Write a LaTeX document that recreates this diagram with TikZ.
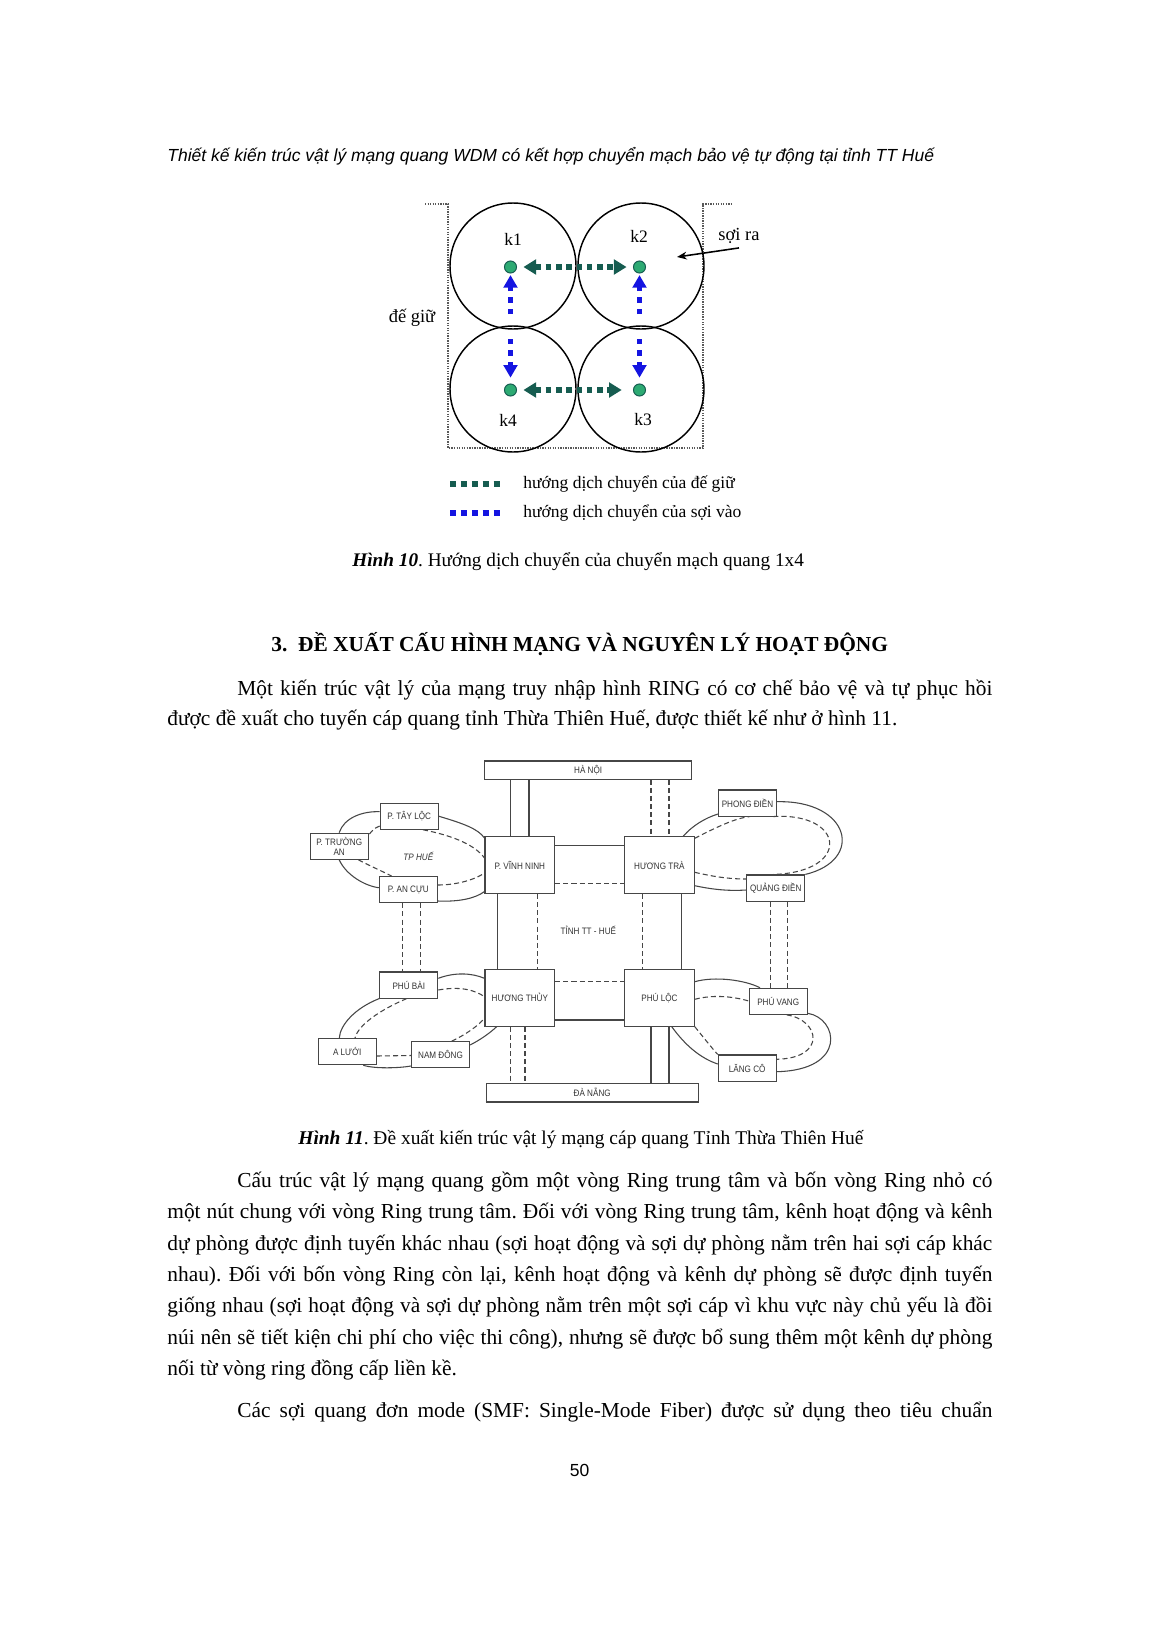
\documentclass[tikz,border=0pt]{standalone}
\usepackage{fontspec}
\setmainfont{Liberation Serif}
\newfontfamily\hdfont{Liberation Sans}
\newfontfamily\lblfont[FakeStretch=0.87]{Liberation Sans}
\usetikzlibrary{arrows.meta}
\definecolor{tealc}{RGB}{22,92,80}
\definecolor{dotg}{RGB}{45,170,115}
\definecolor{bluec}{RGB}{20,20,225}
\definecolor{netc}{RGB}{70,70,70}
\frenchspacing
\tikzset{
  bodyt/.style={anchor=base west, inner sep=0pt, font=\fontsize{11}{13}\selectfont},
  circk/.style={circle, draw=black, line width=0.75pt, minimum size=64.8pt, inner sep=0pt},
  dotn/.style={circle, draw=tealc, fill=dotg, line width=0.5pt, minimum size=6.2pt, inner sep=0pt},
  tealarr/.style={draw=tealc, line width=2.9pt, dash pattern=on 2.9pt off 2.4pt,
     {Triangle[length=6.5pt,width=7.5pt]}-{Triangle[length=6.5pt,width=7.5pt]}},
  bluearr/.style={draw=bluec, line width=2.7pt, dash pattern=on 2.7pt off 3.2pt,
     -{Triangle[length=6.5pt,width=7pt]}},
  klbl/.style={inner sep=0pt, font=\fontsize{9}{10}\selectfont},
  frm/.style={draw=black!65, line width=0.8pt, dash pattern=on 0.7pt off 0.6pt},
  bx/.style={draw=netc, line width=0.55pt, fill=white, inner sep=0.5pt, text=black!80,
     font=\lblfont\fontsize{4.8}{5.4}\selectfont, align=center},
  sbx/.style={bx, minimum width=29.8pt, minimum height=13.4pt},
  mbx/.style={bx, minimum width=35.8pt, minimum height=29.1pt},
  sol/.style={draw=netc, line width=0.55pt},
  dsh/.style={draw=netc, line width=0.55pt, dash pattern=on 2.6pt off 1.6pt},
}
\begin{document}
\begin{tikzpicture}[x=0.5143pt,y=-0.5143pt]
\useasboundingbox[fill=white] (0,0) rectangle (1157,1637);

% header
\node[anchor=base west, inner sep=0pt, font=\hdfont\itshape\fontsize{9}{10}\selectfont] (hdr) at (167,161)
  {Thiết kế kiến trúc vật lý mạng quang WDM có kết hợp chuyển mạch bảo vệ tự động tại tỉnh TT Huế};

% ---------------- Figure 10 ----------------
\draw[frm] (425,204) -- (448,204) -- (448,448) -- (703,448) -- (703,204) -- (732,204);
\node[circk] (c1) at (513,266) {};
\node[circk] (c2) at (641,266) {};
\node[circk] (c4) at (513,389) {};
\node[circk] (c3) at (641,389) {};
\node[klbl] (k1) at (513,239) {k1};
\node[klbl] (k2) at (639,236) {k2};
\node[klbl] (k4) at (508,420) {k4};
\node[klbl] (k3) at (643,420) {k3};
\node[klbl, font=\fontsize{9.5}{10}\selectfont] (sr) at (739,236) {sợi ra};
\node[klbl, font=\fontsize{9.5}{10}\selectfont] (dg) at (412,318) {đế giữ};
\coordinate (srtip) at (677,257);
\draw[line width=0.8pt, -{Stealth[length=5pt,width=4pt]}] ([yshift=-2pt]sr.south) -- (srtip);

\node[dotn] (d1) at (510.5,267) {};
\node[dotn] (d2) at (639.5,267) {};
\node[dotn] (d4) at (510.5,390) {};
\node[dotn] (d3) at (639.5,390) {};
\draw[tealarr, shorten <=3.3pt, shorten >=3.3pt] (d1) -- (d2);
\draw[tealarr, shorten <=3.3pt, shorten >=5.8pt] (d4) -- (d3);
\coordinate (b1) at (510.5,314);
\coordinate (b2) at (639.5,314);
\coordinate (b4) at (510.5,339);
\coordinate (b3) at (639.5,339);
\draw[bluearr, shorten >=0.8pt] (b1) -- (d1);
\draw[bluearr, shorten >=0.8pt] (b2) -- (d2);
\draw[bluearr, shorten >=3pt] (b4) -- (d4);
\draw[bluearr, shorten >=3pt] (b3) -- (d3);

% legend
\draw[draw=tealc, line width=3.3pt, dash pattern=on 3.3pt off 2.3pt] (450,484) -- (503,484);
\draw[draw=bluec, line width=3.3pt, dash pattern=on 3.3pt off 2.3pt] (450,513) -- (503,513);
\node[klbl, anchor=west] (lg1) at (523,484) {hướng dịch chuyển của đế giữ};
\node[klbl, anchor=west] (lg2) at (523,513) {hướng dịch chuyển của sợi vào};

% caption 10
\node[anchor=base west, inner sep=0pt, font=\fontsize{9.9}{12}\selectfont] (cap10) at (352,566)
  {\textbf{\textit{Hình 10}}. Hướng dịch chuyển của chuyển mạch quang 1x4};

% heading
\node[anchor=base west, inner sep=0pt, font=\bfseries\fontsize{11}{13}\selectfont] (h3) at (271,651)
  {3.\ \ ĐỀ XUẤT CẤU HÌNH MẠNG VÀ NGUYÊN LÝ HOẠT ĐỘNG};

% paragraph 1
\node[bodyt] (p1a) at (237,695) {\makebox[388.3pt][s]{Một kiến trúc vật lý của mạng truy nhập hình RING có cơ chế bảo vệ và tự phục hồi}};
\node[bodyt] (p1b) at (167,725) {được đề xuất cho tuyến cáp quang tỉnh Thừa Thiên Huế, được thiết kế như ở hình 11.};

% ---------------- Figure 11 ----------------
\node[bx, minimum width=106.2pt, minimum height=9.3pt] (hn) at (588.2,770) {HÀ NỘI};
\node[bx, minimum width=109.2pt, minimum height=9.5pt] (dn) at (592.2,1092.5) {ĐÀ NẴNG};
\draw[draw=netc, line width=1.2pt] (dn.south west) -- (dn.south east);
\node[mbx] (vn) at (519.8,865) {P. VĨNH NINH};
\node[mbx] (ht) at (659.4,865) {HƯƠNG TRÀ};
\node[mbx] (hy) at (519.8,997.8) {HƯƠNG THỦY};
\node[mbx] (pl) at (659.4,997.8) {PHÚ LỘC};
\node[sbx] (tl) at (409.2,816.2) {P. TÂY LỘC};
\node[sbx] (ta) at (339.2,846.2) {P. TRƯỜNG\\AN};
\node[sbx] (ac) at (408.3,889.7) {P. AN CỰU};
\node[sbx] (pd) at (747.5,803) {PHONG ĐIỀN};
\node[sbx] (qd) at (775.8,888) {QUẢNG ĐIỀN};
\node[sbx] (pb) at (408.8,985) {PHÚ BÀI};
\node[sbx] (al) at (347.2,1051.7) {A LƯỚI};
\node[sbx] (nd) at (440.5,1054.7) {NAM ĐÔNG};
\node[sbx] (pv) at (778.2,1001.3) {PHÚ VANG};
\node[sbx] (lc) at (747.2,1068) {LĂNG CÔ};
\node[inner sep=0pt, text=black!80, font=\lblfont\fontsize{4.8}{5.4}\selectfont] (tinh) at (588.3,930.7) {TỈNH TT - HUẾ};
\node[inner sep=0pt, text=black!80, font=\lblfont\itshape\fontsize{4.8}{5.4}\selectfont] (tphue) at (418.3,856.7) {TP HUẾ};

% central ring
\draw[sol] (hn.south -| 510.7,0) -- (vn.north -| 510.7,0);
\draw[sol] (hn.south -| 529,0) -- (vn.north -| 529,0);
\draw[dsh] (hn.south -| 651,0) -- (ht.north -| 651,0);
\draw[dsh] (hn.south -| 669,0) -- (ht.north -| 669,0);
\draw[sol] (vn.east |- 0,845.7) -- (ht.west |- 0,845.7);
\draw[dsh] (vn.east |- 0,883.3) -- (ht.west |- 0,883.3);
\draw[sol] (vn.south -| 497.7,0) -- (hy.north -| 497.7,0);
\draw[dsh] (vn.south -| 537.7,0) -- (hy.north -| 537.7,0);
\draw[dsh] (ht.south -| 642.3,0) -- (pl.north -| 642.3,0);
\draw[sol] (ht.south -| 681.7,0) -- (pl.north -| 681.7,0);
\draw[dsh] (hy.east |- 0,981.7) -- (pl.west |- 0,981.7);
\draw[sol] (hy.east |- 0,1020) -- (pl.west |- 0,1020);
\draw[dsh] (hy.south -| 510.7,0) -- (dn.north -| 510.7,0);
\draw[dsh] (hy.south -| 525,0) -- (dn.north -| 525,0);
\draw[sol] (pl.south -| 651,0) -- (dn.north -| 651,0);
\draw[sol] (pl.south -| 669,0) -- (dn.north -| 669,0);

% top-left ring
\draw[sol] (tl.east) .. controls (465,824) and (478,829) .. (vn.west |- 0,838);
\draw[sol] (ta.north) .. controls (344,818) and (362,811) .. (tl.west |- 0,811.7);
\draw[sol] (ta.south) .. controls (346,875) and (365,886) .. (ac.west |- 0,887.7);
\draw[sol] (ac.east |- 0,901) .. controls (460,902) and (476,898) .. (vn.west |- 0,891.5);
\draw[dsh] (tl.west |- 0,826) .. controls (374,828) and (371,832) .. (ta.east |- 0,835);
\draw[dsh] (ta.south -| 358.3,0) .. controls (370,866) and (384,872) .. (ac.north -| 391.7,0);
\draw[dsh] (tl.south -| 423,0) .. controls (455,836) and (476,846) .. (vn.west |- 0,858);
\draw[dsh] (ac.east |- 0,885) .. controls (458,885) and (476,879) .. (vn.west |- 0,873);
\draw[dsh] (ac.south -| 402.7,0) -- (pb.north -| 402.7,0);
\draw[dsh] (ac.south -| 420.7,0) -- (pb.north -| 420.7,0);

% top-right ring
\draw[sol] (ht.north -| 683.3,0) .. controls (692,826) and (705,818) .. (pd.west |- 0,814);
\draw[sol] (pd.east |- 0,801.7) .. controls (850,800) and (865,860) .. (qd.north east);
\draw[sol] (ht.east |- 0,885.7) .. controls (715,890) and (730,891) .. (qd.west |- 0,890);
\draw[dsh] (ht.east |- 0,838.3) .. controls (715,828) and (735,818) .. (pd.south -| 750,0);
\draw[dsh] (pd.south -| 773.3,0) .. controls (845,812) and (852,872) .. (qd.north -| 773.3,0);
\draw[dsh] (ht.east |- 0,872.3) .. controls (715,877) and (730,879) .. (qd.west |- 0,879);
\draw[dsh] (qd.south -| 770.7,0) -- (pv.north -| 770.7,0);
\draw[dsh] (qd.south -| 787.7,0) -- (pv.north -| 787.7,0);

% bottom-left ring
\draw[sol] (pb.east |- 0,978.3) .. controls (455,972) and (472,973) .. (hy.west |- 0,978.3);
\draw[dsh] (pb.east |- 0,990) .. controls (460,986) and (475,990) .. (hy.west |- 0,996.7);
\draw[sol] (pb.south west) .. controls (355,1008) and (340,1025) .. (al.north -| 339.3,0);
\draw[dsh] (pb.south -| 406.7,0) .. controls (380,1010) and (358,1025) .. (al.north -| 355,0);
\draw[dsh] (al.east |- 0,1056) -- (nd.west |- 0,1055.5);
\draw[sol] (al.south -| 363.3,0) .. controls (375,1069) and (400,1068) .. (nd.west |- 0,1066);
\draw[dsh] (nd.north -| 451.7,0) .. controls (465,1035) and (478,1026) .. (hy.west |- 0,1018.3);
\draw[sol] (nd.east |- 0,1045) .. controls (480,1040) and (490,1033) .. (hy.south -| 496.7,0);

% bottom-right ring
\draw[sol] (pl.east |- 0,981.7) .. controls (715,976) and (745,980) .. (pv.north -| 760,0);
\draw[dsh] (pl.east |- 0,999.3) .. controls (715,994) and (735,997) .. (pv.west |- 0,1001);
\draw[sol] (pv.east |- 0,1013.3) .. controls (838,1018) and (848,1070) .. (lc.east |- 0,1071.7);
\draw[dsh] (pv.south -| 786.7,0) .. controls (820,1020) and (827,1058) .. (lc.east |- 0,1059.3);
\draw[sol] (pl.south -| 671.7,0) .. controls (685,1045) and (700,1058) .. (lc.west |- 0,1064);
\draw[dsh] (pl.south east) .. controls (704,1038) and (711,1047) .. (lc.north west);

% caption 11
\node[anchor=base west, inner sep=0pt, font=\fontsize{10}{12}\selectfont] (cap11) at (298,1144)
  {\textbf{\textit{Hình 11}}. Đề xuất kiến trúc vật lý mạng cáp quang Tỉnh Thừa Thiên Huế};

% paragraph 2
\node[bodyt] (p2a) at (237,1187) {\makebox[388.3pt][s]{Cấu trúc vật lý mạng quang gồm một vòng Ring trung tâm và bốn vòng Ring nhỏ có}};
\node[bodyt] (p2b) at (167,1218) {\makebox[424.3pt][s]{một nút chung với vòng Ring trung tâm. Đối với vòng Ring trung tâm, kênh hoạt động và kênh}};
\node[bodyt] (p2c) at (167,1250) {\makebox[424.3pt][s]{dự phòng được định tuyến khác nhau (sợi hoạt động và sợi dự phòng nằm trên hai sợi cáp khác}};
\node[bodyt] (p2d) at (167,1281) {\makebox[424.3pt][s]{nhau). Đối với bốn vòng Ring còn lại, kênh hoạt động và kênh dự phòng sẽ được định tuyến}};
\node[bodyt] (p2e) at (167,1312) {\makebox[424.3pt][s]{giống nhau (sợi hoạt động và sợi dự phòng nằm trên một sợi cáp vì khu vực này chủ yếu là đồi}};
\node[bodyt] (p2f) at (167,1344) {\makebox[424.3pt][s]{núi nên sẽ tiết kiện chi phí cho việc thi công), nhưng sẽ được bổ sung thêm một kênh dự phòng}};
\node[bodyt] (p2g) at (167,1375) {nối từ vòng ring đồng cấp liền kề.};

% paragraph 3
\node[bodyt] (p3a) at (237,1417) {\makebox[388.3pt][s]{Các sợi quang đơn mode (SMF: Single-Mode Fiber) được sử dụng theo tiêu chuẩn}};

% page number
\node[anchor=base, inner sep=0pt, font=\hdfont\fontsize{9}{10}\selectfont] (pg) at (579.5,1476) {50};
\end{tikzpicture}
\end{document}
